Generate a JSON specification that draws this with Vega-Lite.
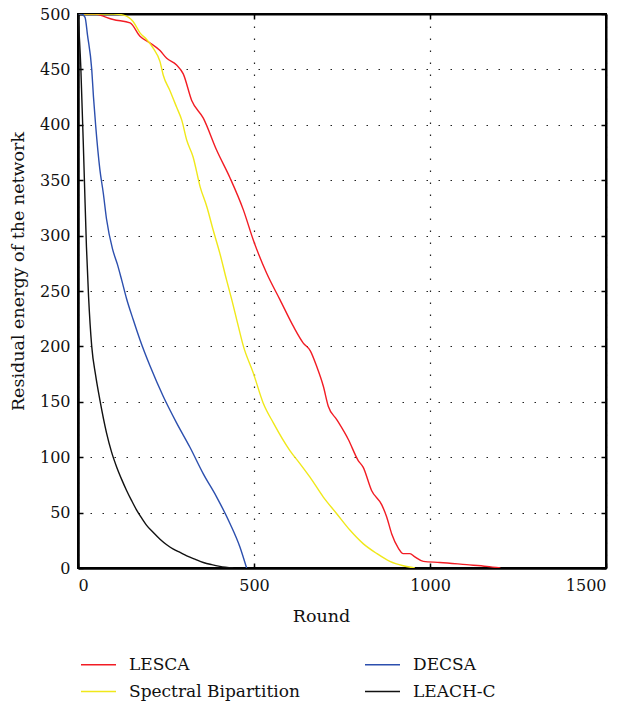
{
  "$schema": "https://vega.github.io/schema/vega-lite/v6.json",
  "width": 528,
  "height": 554,
  "autosize": {"type": "none"},
  "padding": {"left": 78, "top": 14, "right": 19, "bottom": 136},
  "background": "white",
  "config": {
    "view": {"stroke": "black", "strokeWidth": 2},
    "axis": {
      "domainColor": "black",
      "domainWidth": 2.5,
      "tickColor": "black",
      "tickWidth": 1.5,
      "tickSize": -5,
      "gridColor": "#222",
      "gridDash": [1.5, 10.5],
      "gridWidth": 1.2,
      "labelFont": "DejaVu Serif",
      "labelFontSize": 16,
      "labelColor": "#111",
      "titleFont": "DejaVu Serif",
      "titleFontSize": 17.5,
      "titleFontWeight": "normal",
      "titleColor": "#111",
      "format": "d"
    },
    "legend": {
      "orient": "none",
      "legendX": 2,
      "legendY": 632,
      "columns": 2,
      "direction": "horizontal",
      "symbolType": "stroke",
      "symbolSize": 1225,
      "symbolStrokeWidth": 1.5,
      "labelFont": "DejaVu Serif",
      "labelFontSize": 17,
      "labelColor": "#111",
      "labelOffset": 12,
      "labelLimit": 0,
      "columnPadding": 62,
      "rowPadding": -9,
      "title": null
    }
  },
  "data": {
    "values": [
      {"s": "LESCA", "r": 0, "e": 500}, {"s": "LESCA", "r": 50, "e": 500}, {"s": "LESCA", "r": 62, "e": 499},
      {"s": "LESCA", "r": 100, "e": 495}, {"s": "LESCA", "r": 148, "e": 492}, {"s": "LESCA", "r": 176, "e": 480},
      {"s": "LESCA", "r": 204, "e": 474}, {"s": "LESCA", "r": 233, "e": 467}, {"s": "LESCA", "r": 252, "e": 460},
      {"s": "LESCA", "r": 280, "e": 454}, {"s": "LESCA", "r": 299, "e": 446}, {"s": "LESCA", "r": 323, "e": 422},
      {"s": "LESCA", "r": 356, "e": 406}, {"s": "LESCA", "r": 394, "e": 377}, {"s": "LESCA", "r": 432, "e": 352},
      {"s": "LESCA", "r": 470, "e": 323}, {"s": "LESCA", "r": 498, "e": 296}, {"s": "LESCA", "r": 536, "e": 266},
      {"s": "LESCA", "r": 574, "e": 242}, {"s": "LESCA", "r": 612, "e": 218}, {"s": "LESCA", "r": 640, "e": 203},
      {"s": "LESCA", "r": 660, "e": 196}, {"s": "LESCA", "r": 678, "e": 182}, {"s": "LESCA", "r": 697, "e": 164},
      {"s": "LESCA", "r": 711, "e": 146}, {"s": "LESCA", "r": 735, "e": 134}, {"s": "LESCA", "r": 768, "e": 116},
      {"s": "LESCA", "r": 796, "e": 97}, {"s": "LESCA", "r": 810, "e": 91}, {"s": "LESCA", "r": 834, "e": 70},
      {"s": "LESCA", "r": 863, "e": 57}, {"s": "LESCA", "r": 877, "e": 46}, {"s": "LESCA", "r": 891, "e": 31},
      {"s": "LESCA", "r": 910, "e": 18}, {"s": "LESCA", "r": 924, "e": 13}, {"s": "LESCA", "r": 943, "e": 13},
      {"s": "LESCA", "r": 957, "e": 10}, {"s": "LESCA", "r": 981, "e": 6}, {"s": "LESCA", "r": 1028, "e": 5},
      {"s": "LESCA", "r": 1104, "e": 3}, {"s": "LESCA", "r": 1161, "e": 1.5}, {"s": "LESCA", "r": 1200, "e": 0},

      {"s": "Spectral Bipartition", "r": 0, "e": 500}, {"s": "Spectral Bipartition", "r": 100, "e": 500},
      {"s": "Spectral Bipartition", "r": 129, "e": 499}, {"s": "Spectral Bipartition", "r": 157, "e": 493},
      {"s": "Spectral Bipartition", "r": 176, "e": 483}, {"s": "Spectral Bipartition", "r": 195, "e": 477},
      {"s": "Spectral Bipartition", "r": 214, "e": 469}, {"s": "Spectral Bipartition", "r": 233, "e": 457},
      {"s": "Spectral Bipartition", "r": 242, "e": 445}, {"s": "Spectral Bipartition", "r": 261, "e": 431},
      {"s": "Spectral Bipartition", "r": 280, "e": 416}, {"s": "Spectral Bipartition", "r": 295, "e": 404},
      {"s": "Spectral Bipartition", "r": 309, "e": 386}, {"s": "Spectral Bipartition", "r": 327, "e": 371},
      {"s": "Spectral Bipartition", "r": 347, "e": 344}, {"s": "Spectral Bipartition", "r": 366, "e": 326},
      {"s": "Spectral Bipartition", "r": 384, "e": 305}, {"s": "Spectral Bipartition", "r": 403, "e": 284},
      {"s": "Spectral Bipartition", "r": 422, "e": 260}, {"s": "Spectral Bipartition", "r": 437, "e": 242},
      {"s": "Spectral Bipartition", "r": 451, "e": 224}, {"s": "Spectral Bipartition", "r": 470, "e": 200},
      {"s": "Spectral Bipartition", "r": 498, "e": 176}, {"s": "Spectral Bipartition", "r": 526, "e": 149},
      {"s": "Spectral Bipartition", "r": 555, "e": 131}, {"s": "Spectral Bipartition", "r": 602, "e": 106},
      {"s": "Spectral Bipartition", "r": 631, "e": 94}, {"s": "Spectral Bipartition", "r": 659, "e": 82},
      {"s": "Spectral Bipartition", "r": 697, "e": 64}, {"s": "Spectral Bipartition", "r": 735, "e": 49},
      {"s": "Spectral Bipartition", "r": 773, "e": 34}, {"s": "Spectral Bipartition", "r": 810, "e": 22},
      {"s": "Spectral Bipartition", "r": 849, "e": 13}, {"s": "Spectral Bipartition", "r": 886, "e": 6},
      {"s": "Spectral Bipartition", "r": 924, "e": 2}, {"s": "Spectral Bipartition", "r": 957, "e": 0},

      {"s": "DECSA", "r": 0, "e": 500}, {"s": "DECSA", "r": 10, "e": 500}, {"s": "DECSA", "r": 20, "e": 497},
      {"s": "DECSA", "r": 27, "e": 481}, {"s": "DECSA", "r": 39, "e": 450}, {"s": "DECSA", "r": 44, "e": 425},
      {"s": "DECSA", "r": 50, "e": 400}, {"s": "DECSA", "r": 62, "e": 360}, {"s": "DECSA", "r": 72, "e": 338},
      {"s": "DECSA", "r": 81, "e": 315}, {"s": "DECSA", "r": 98, "e": 288}, {"s": "DECSA", "r": 112, "e": 274},
      {"s": "DECSA", "r": 124, "e": 260}, {"s": "DECSA", "r": 138, "e": 243}, {"s": "DECSA", "r": 157, "e": 224},
      {"s": "DECSA", "r": 176, "e": 206}, {"s": "DECSA", "r": 205, "e": 182}, {"s": "DECSA", "r": 242, "e": 155},
      {"s": "DECSA", "r": 280, "e": 131}, {"s": "DECSA", "r": 318, "e": 109}, {"s": "DECSA", "r": 356, "e": 85},
      {"s": "DECSA", "r": 394, "e": 64}, {"s": "DECSA", "r": 432, "e": 40}, {"s": "DECSA", "r": 460, "e": 19},
      {"s": "DECSA", "r": 479, "e": 0},

      {"s": "LEACH-C", "r": 0, "e": 500}, {"s": "LEACH-C", "r": 8, "e": 452}, {"s": "LEACH-C", "r": 18, "e": 352},
      {"s": "LEACH-C", "r": 24, "e": 290}, {"s": "LEACH-C", "r": 30, "e": 245}, {"s": "LEACH-C", "r": 39, "e": 200},
      {"s": "LEACH-C", "r": 50, "e": 174}, {"s": "LEACH-C", "r": 62, "e": 152}, {"s": "LEACH-C", "r": 81, "e": 122},
      {"s": "LEACH-C", "r": 95, "e": 105}, {"s": "LEACH-C", "r": 110, "e": 91}, {"s": "LEACH-C", "r": 124, "e": 80},
      {"s": "LEACH-C", "r": 138, "e": 70}, {"s": "LEACH-C", "r": 152, "e": 61}, {"s": "LEACH-C", "r": 167, "e": 52},
      {"s": "LEACH-C", "r": 181, "e": 45}, {"s": "LEACH-C", "r": 195, "e": 38.5}, {"s": "LEACH-C", "r": 214, "e": 32},
      {"s": "LEACH-C", "r": 233, "e": 26}, {"s": "LEACH-C", "r": 252, "e": 21}, {"s": "LEACH-C", "r": 271, "e": 17},
      {"s": "LEACH-C", "r": 290, "e": 14}, {"s": "LEACH-C", "r": 309, "e": 11}, {"s": "LEACH-C", "r": 332, "e": 8},
      {"s": "LEACH-C", "r": 356, "e": 5}, {"s": "LEACH-C", "r": 380, "e": 3}, {"s": "LEACH-C", "r": 403, "e": 1.5},
      {"s": "LEACH-C", "r": 441, "e": 0}
    ]
  },
  "layer": [
    {
      "mark": {"type": "line", "strokeWidth": 1.4, "clip": true, "interpolate": "monotone"},
      "encoding": {
        "x": {
          "field": "r", "type": "quantitative",
          "scale": {"domain": [0, 1500], "nice": false},
          "axis": {
            "values": [0, 500, 1000, 1500],
            "grid": true,
            "title": "Round",
            "labelPadding": 14,
            "titleX": 243,
            "titleY": 48,
            "titleBaseline": "middle"
          }
        },
        "y": {
          "field": "e", "type": "quantitative",
          "scale": {"domain": [0, 500], "nice": false},
          "axis": {
            "values": [0, 50, 100, 150, 200, 250, 300, 350, 400, 450, 500],
            "grid": true,
            "title": "Residual energy of the network",
            "labelPadding": 13,
            "titleX": -60,
            "titleY": 257,
            "titleBaseline": "middle",
            "titleAngle": -90,
            "titleAlign": "center"
          }
        },
        "color": {
          "field": "s", "type": "nominal",
          "scale": {
            "domain": ["LESCA", "DECSA", "Spectral Bipartition", "LEACH-C"],
            "range": ["#f21c24", "#2c4fae", "#f0e81a", "#111111"]
          }
        },
        "order": {"field": "r", "type": "quantitative"}
      }
    },
    {
      "mark": {"type": "line", "strokeOpacity": 0},
      "encoding": {
        "x": {
          "field": "r", "type": "quantitative",
          "axis": {"orient": "top", "values": [0, 500, 1000, 1500], "labels": false, "title": null, "grid": false, "domainWidth": 2}
        },
        "y": {
          "field": "e", "type": "quantitative",
          "axis": {"orient": "right", "values": [0, 50, 100, 150, 200, 250, 300, 350, 400, 450, 500], "labels": false, "title": null, "grid": false, "domainWidth": 2}
        },
        "detail": {"field": "s", "type": "nominal"}
      }
    }
  ],
  "resolve": {"axis": {"x": "independent", "y": "independent"}}
}
